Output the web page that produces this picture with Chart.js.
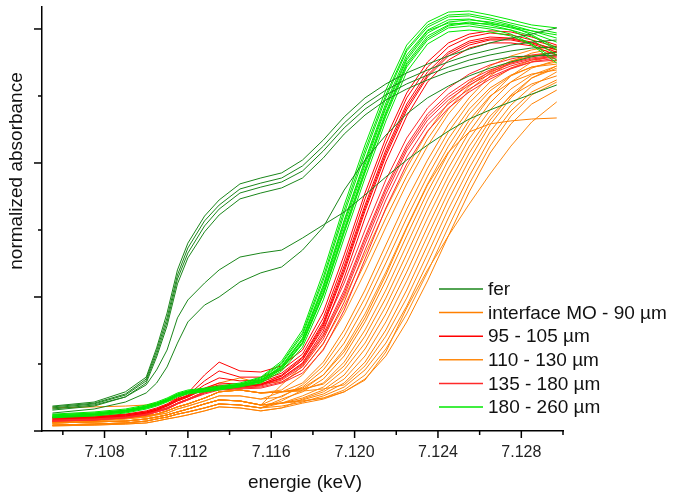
<!DOCTYPE html>
<html>
<head>
<meta charset="utf-8">
<script src="https://cdn.jsdelivr.net/npm/chart.js@4/dist/chart.umd.min.js"></script>
<style>
html,body{margin:0;padding:0;background:#fff;}
#wrap{width:674px;height:499px;}
</style>
</head>
<body>
<div id="wrap"><canvas id="xanesChart" width="674" height="499"></canvas></div>
<script>
// energy grid (keV), shared by every spectrum
const energies = [7.1055,7.1075,7.109,7.11,7.1105,7.111,7.1115,7.112,7.1128,7.1135,7.1145,7.1155,7.1165,7.1175,7.1185,7.1195,7.1205,7.1215,7.1225,7.1235,7.1245,7.1255,7.1265,7.1275,7.1285,7.1297];

const xTicks = [7.106,7.108,7.110,7.112,7.114,7.116,7.118,7.120,7.122,7.124,7.126,7.128,7.130];
const xLabels = [7.108,7.112,7.116,7.120,7.124,7.128];
const yTicks = [0,0.25,0.5,0.75,1,1.25,1.5];

const legendLabels = ['fer','interface MO - 90 µm','95 - 105 µm','110 - 130 µm','135 - 180 µm','180 - 260 µm'];
const legendColors = ['#1a861a','#ff8000','#ff0000','#ff8a10','#ff2a2a','#00e800'];

// normalized absorbance, one array per spectrum
const ferSpectra = [
[0.093,0.108,0.146,0.201,0.310,0.440,0.601,0.701,0.802,0.862,0.922,0.944,0.963,1.011,1.086,1.172,1.243,1.295,1.336,1.369,1.399,1.425,1.448,1.466,1.481,1.504],
[0.090,0.104,0.138,0.194,0.299,0.422,0.582,0.683,0.784,0.843,0.903,0.925,0.944,0.989,1.063,1.149,1.220,1.272,1.313,1.347,1.377,1.403,1.422,1.440,1.451,1.459],
[0.086,0.101,0.134,0.187,0.287,0.407,0.567,0.664,0.765,0.828,0.888,0.910,0.929,0.970,1.045,1.131,1.201,1.254,1.295,1.328,1.358,1.384,1.403,1.418,1.429,1.433],
[0.082,0.097,0.127,0.179,0.276,0.392,0.549,0.646,0.743,0.806,0.866,0.888,0.907,0.944,1.019,1.108,1.179,1.235,1.276,1.310,1.340,1.362,1.381,1.396,1.399,1.403],
[0.078,0.093,0.127,0.172,0.228,0.302,0.422,0.489,0.552,0.601,0.649,0.664,0.675,0.720,0.769,0.817,0.881,0.948,1.011,1.067,1.119,1.164,1.198,1.228,1.257,1.291],
[0.067,0.082,0.108,0.142,0.179,0.239,0.328,0.407,0.470,0.500,0.556,0.590,0.612,0.675,0.761,0.899,1.011,1.104,1.183,1.243,1.287,1.325,1.354,1.377,1.396,1.414]
];

const spectra180 = [
[0.063,0.071,0.082,0.097,0.108,0.123,0.142,0.153,0.160,0.168,0.179,0.201,0.261,0.377,0.593,0.843,1.067,1.272,1.440,1.526,1.563,1.567,1.552,1.534,1.515,1.504],
[0.060,0.067,0.078,0.093,0.104,0.119,0.138,0.149,0.157,0.164,0.175,0.198,0.254,0.366,0.575,0.825,1.049,1.254,1.425,1.515,1.552,1.556,1.541,1.522,1.504,1.485],
[0.060,0.067,0.078,0.093,0.104,0.119,0.138,0.149,0.157,0.164,0.175,0.194,0.250,0.358,0.563,0.810,1.034,1.243,1.418,1.507,1.545,1.549,1.534,1.515,1.493,1.466],
[0.056,0.063,0.075,0.090,0.101,0.116,0.134,0.146,0.153,0.160,0.172,0.190,0.243,0.347,0.545,0.787,1.011,1.224,1.403,1.496,1.534,1.537,1.522,1.504,1.485,1.451],
[0.056,0.063,0.075,0.090,0.101,0.116,0.134,0.146,0.153,0.160,0.172,0.190,0.239,0.340,0.530,0.769,0.993,1.205,1.384,1.485,1.526,1.534,1.526,1.511,1.478,1.429],
[0.052,0.060,0.071,0.086,0.097,0.112,0.131,0.142,0.149,0.157,0.168,0.187,0.235,0.332,0.519,0.754,0.978,1.190,1.373,1.474,1.515,1.526,1.515,1.496,1.459,1.403],
[0.052,0.060,0.071,0.086,0.097,0.112,0.131,0.142,0.149,0.157,0.168,0.183,0.231,0.325,0.507,0.739,0.963,1.175,1.358,1.459,1.504,1.511,1.500,1.481,1.444,1.384],
[0.049,0.056,0.067,0.082,0.093,0.108,0.127,0.138,0.146,0.153,0.164,0.179,0.224,0.313,0.489,0.720,0.944,1.157,1.340,1.444,1.489,1.496,1.489,1.474,1.440,1.373],
[0.056,0.063,0.075,0.090,0.101,0.116,0.134,0.146,0.153,0.160,0.172,0.187,0.239,0.343,0.537,0.780,1.004,1.213,1.392,1.493,1.522,1.519,1.507,1.496,1.474,1.422],
[0.052,0.060,0.071,0.086,0.097,0.112,0.131,0.142,0.149,0.157,0.168,0.183,0.231,0.328,0.511,0.746,0.970,1.183,1.366,1.466,1.511,1.522,1.519,1.507,1.493,1.478]
];

const spectra95 = [
[0.052,0.056,0.063,0.075,0.086,0.101,0.123,0.142,0.209,0.257,0.224,0.220,0.243,0.302,0.444,0.657,0.888,1.093,1.261,1.377,1.448,1.481,1.493,1.489,1.470,1.440],
[0.049,0.052,0.060,0.071,0.082,0.097,0.119,0.134,0.187,0.224,0.201,0.201,0.228,0.287,0.422,0.634,0.866,1.071,1.243,1.358,1.433,1.470,1.485,1.478,1.459,1.433],
[0.049,0.052,0.060,0.071,0.082,0.097,0.116,0.131,0.172,0.198,0.187,0.190,0.216,0.276,0.407,0.616,0.843,1.049,1.220,1.340,1.414,1.455,1.470,1.466,1.451,1.422],
[0.045,0.049,0.056,0.067,0.078,0.093,0.112,0.127,0.157,0.172,0.168,0.175,0.205,0.265,0.392,0.593,0.821,1.026,1.198,1.321,1.399,1.440,1.459,1.459,1.444,1.414],
[0.045,0.049,0.056,0.067,0.078,0.093,0.112,0.127,0.157,0.168,0.164,0.172,0.198,0.254,0.373,0.571,0.795,1.004,1.175,1.302,1.384,1.429,1.448,1.448,1.437,1.403],
[0.049,0.052,0.060,0.071,0.082,0.097,0.116,0.131,0.160,0.179,0.175,0.183,0.209,0.272,0.399,0.604,0.832,1.037,1.209,1.328,1.407,1.448,1.463,1.463,1.448,1.422]
];

const spectra135 = [
[0.041,0.045,0.052,0.063,0.075,0.086,0.104,0.119,0.146,0.164,0.168,0.175,0.205,0.265,0.384,0.552,0.750,0.937,1.093,1.205,1.280,1.332,1.366,1.388,1.403,1.414],
[0.041,0.045,0.052,0.063,0.075,0.086,0.104,0.119,0.146,0.160,0.164,0.172,0.198,0.250,0.362,0.526,0.724,0.910,1.067,1.183,1.257,1.310,1.347,1.373,1.392,1.403],
[0.037,0.041,0.049,0.060,0.071,0.082,0.101,0.116,0.142,0.157,0.160,0.168,0.190,0.239,0.343,0.504,0.698,0.884,1.045,1.160,1.235,1.291,1.332,1.362,1.384,1.396],
[0.037,0.041,0.049,0.060,0.071,0.082,0.101,0.116,0.142,0.157,0.160,0.164,0.183,0.228,0.325,0.481,0.675,0.862,1.022,1.142,1.220,1.276,1.321,1.354,1.377,1.392],
[0.041,0.045,0.052,0.063,0.075,0.086,0.104,0.119,0.146,0.160,0.164,0.172,0.194,0.246,0.354,0.515,0.713,0.899,1.056,1.172,1.246,1.299,1.340,1.369,1.388,1.399],
[0.037,0.041,0.049,0.060,0.071,0.082,0.101,0.116,0.138,0.153,0.157,0.160,0.179,0.216,0.302,0.451,0.642,0.832,0.996,1.119,1.205,1.265,1.313,1.351,1.377,1.384]
];

const interfaceSpectra = [
[0.086,0.090,0.093,0.097,0.104,0.112,0.119,0.131,0.157,0.179,0.198,0.179,0.183,0.228,0.328,0.466,0.627,0.795,0.951,1.090,1.201,1.287,1.343,1.381,1.399,1.414],
[0.037,0.041,0.049,0.056,0.063,0.075,0.090,0.101,0.123,0.146,0.153,0.142,0.146,0.179,0.257,0.377,0.526,0.694,0.862,1.011,1.142,1.243,1.325,1.377,1.410,1.429],
[0.030,0.034,0.037,0.045,0.052,0.060,0.071,0.082,0.101,0.116,0.112,0.097,0.131,0.164,0.228,0.328,0.466,0.627,0.795,0.951,1.090,1.201,1.280,1.328,1.358,1.369],
[0.022,0.026,0.030,0.037,0.045,0.052,0.063,0.071,0.086,0.101,0.097,0.086,0.119,0.146,0.194,0.280,0.407,0.560,0.728,0.892,1.037,1.160,1.250,1.302,1.332,1.347],
[0.037,0.041,0.049,0.056,0.063,0.075,0.090,0.101,0.123,0.146,0.153,0.142,0.146,0.157,0.175,0.243,0.354,0.496,0.660,0.828,0.981,1.116,1.224,1.302,1.354,1.384],
[0.022,0.026,0.030,0.037,0.045,0.052,0.063,0.071,0.086,0.101,0.097,0.086,0.104,0.123,0.153,0.209,0.306,0.437,0.593,0.761,0.922,1.063,1.175,1.250,1.295,1.325],
[0.030,0.034,0.037,0.045,0.052,0.060,0.071,0.082,0.101,0.116,0.112,0.097,0.104,0.116,0.138,0.179,0.257,0.377,0.526,0.694,0.862,1.011,1.142,1.243,1.317,1.362],
[0.022,0.026,0.030,0.037,0.045,0.052,0.063,0.071,0.086,0.101,0.097,0.086,0.093,0.108,0.131,0.164,0.228,0.328,0.466,0.627,0.795,0.951,1.090,1.194,1.265,1.310],
[0.019,0.022,0.026,0.030,0.037,0.045,0.052,0.060,0.075,0.090,0.086,0.075,0.086,0.104,0.119,0.146,0.194,0.280,0.407,0.560,0.728,0.892,1.037,1.146,1.220,1.272],
[0.037,0.041,0.049,0.056,0.063,0.075,0.090,0.101,0.123,0.146,0.153,0.142,0.146,0.160,0.209,0.295,0.422,0.582,0.757,0.918,1.041,1.116,1.146,1.157,1.164,1.168]
];

const spectra110 = [
[0.037,0.041,0.049,0.056,0.063,0.075,0.090,0.101,0.123,0.146,0.153,0.142,0.153,0.209,0.306,0.437,0.593,0.761,0.922,1.063,1.183,1.272,1.336,1.373,1.399,1.418],
[0.034,0.037,0.045,0.052,0.060,0.067,0.082,0.093,0.112,0.131,0.131,0.119,0.127,0.172,0.243,0.354,0.496,0.660,0.828,0.981,1.116,1.224,1.302,1.354,1.384,1.403],
[0.022,0.026,0.030,0.037,0.045,0.052,0.063,0.071,0.086,0.101,0.097,0.086,0.112,0.153,0.209,0.306,0.437,0.593,0.761,0.922,1.063,1.183,1.269,1.325,1.358,1.377],
[0.037,0.041,0.049,0.056,0.063,0.075,0.090,0.101,0.123,0.146,0.153,0.142,0.146,0.153,0.179,0.257,0.377,0.526,0.694,0.862,1.011,1.142,1.246,1.325,1.377,1.407],
[0.030,0.034,0.037,0.045,0.052,0.060,0.071,0.082,0.101,0.116,0.112,0.097,0.104,0.131,0.164,0.228,0.328,0.466,0.627,0.795,0.951,1.090,1.198,1.276,1.328,1.362],
[0.019,0.022,0.026,0.030,0.037,0.045,0.052,0.060,0.075,0.090,0.086,0.075,0.086,0.119,0.146,0.194,0.280,0.407,0.560,0.728,0.892,1.037,1.160,1.254,1.317,1.354],
[0.034,0.037,0.045,0.052,0.060,0.067,0.082,0.093,0.112,0.131,0.131,0.119,0.146,0.149,0.157,0.172,0.243,0.354,0.496,0.660,0.828,0.981,1.116,1.216,1.287,1.340],
[0.030,0.034,0.037,0.045,0.052,0.060,0.071,0.082,0.101,0.116,0.112,0.097,0.104,0.112,0.123,0.153,0.209,0.306,0.437,0.593,0.761,0.922,1.063,1.175,1.254,1.302],
[0.030,0.034,0.037,0.045,0.052,0.060,0.071,0.082,0.101,0.116,0.112,0.097,0.104,0.112,0.123,0.146,0.190,0.295,0.459,0.601,0.728,0.847,0.959,1.063,1.153,1.228],
[0.030,0.034,0.037,0.045,0.052,0.060,0.071,0.082,0.101,0.116,0.112,0.097,0.172,0.243,0.354,0.496,0.660,0.828,0.981,1.116,1.224,1.302,1.362,1.399,1.422,1.437]
];

const fontFamily = '"Liberation Sans", Arial, sans-serif';

function makeSets(group, color) {
  return group.map(ys => ({
    data: ys.map((y, k) => ({x: energies[k], y: y})),
    borderColor: color,
    borderWidth: 1,
    pointRadius: 0,
    fill: false,
    tension: 0
  }));
}

// first dataset is painted on top
const datasets = [].concat(
  makeSets(ferSpectra, legendColors[0]),
  makeSets(spectra180, legendColors[5]),
  makeSets(spectra95, legendColors[2]),
  makeSets(spectra135, legendColors[4]),
  makeSets(interfaceSpectra, legendColors[1]),
  makeSets(spectra110, legendColors[3])
);

const decorations = {
  id: 'decorations',
  afterDraw(chart) {
    const {ctx, chartArea: a, scales: {x, y}} = chart;
    ctx.save();
    ctx.strokeStyle = '#000';
    ctx.lineWidth = 1.5;
    xTicks.forEach(v => {
      const px = x.getPixelForValue(v);
      const len = xLabels.includes(v) ? 7 : 4;
      ctx.beginPath();
      ctx.moveTo(px, a.bottom);
      ctx.lineTo(px, a.bottom + len);
      ctx.stroke();
    });
    yTicks.forEach(v => {
      const py = y.getPixelForValue(v);
      const len = (v * 2) % 1 === 0 ? 8 : 4;
      ctx.beginPath();
      ctx.moveTo(a.left - len, py);
      ctx.lineTo(a.left, py);
      ctx.stroke();
    });

    // axis titles
    ctx.fillStyle = '#111';
    ctx.font = '19px ' + fontFamily;
    ctx.textAlign = 'center';
    ctx.textBaseline = 'middle';
    ctx.fillText('energie (keV)', 305, 483);
    ctx.save();
    ctx.translate(17, 171);
    ctx.rotate(-Math.PI / 2);
    ctx.fillText('normalized absorbance', 0, 0);
    ctx.restore();

    // legend
    ctx.textAlign = 'left';
    legendLabels.forEach((label, i) => {
      const ly = 289 + i * 23.6;
      ctx.strokeStyle = legendColors[i];
      ctx.lineWidth = 1.5;
      ctx.beginPath();
      ctx.moveTo(439, ly);
      ctx.lineTo(483, ly);
      ctx.stroke();
      ctx.fillStyle = '#111';
      ctx.fillText(label, 488, ly + 1);
    });
    ctx.restore();
  }
};

new Chart(document.getElementById('xanesChart'), {
  type: 'line',
  data: {datasets: datasets},
  options: {
    responsive: false,
    animation: false,
    layout: {padding: {top: 7, right: 111, left: 0, bottom: 0}},
    plugins: {legend: {display: false}, tooltip: {enabled: false}},
    scales: {
      x: {
        type: 'linear',
        min: 7.105,
        max: 7.130,
        afterBuildTicks: s => { s.ticks = xTicks.map(v => ({value: v})); },
        afterFit: s => { s.height = 68; },
        grid: {display: false, drawTicks: false},
        border: {display: true, color: '#000', width: 1.5},
        ticks: {
          autoSkip: false,
          maxRotation: 0,
          padding: 12,
          color: '#222',
          font: {family: fontFamily, size: 16},
          callback: v => xLabels.includes(v) ? v.toFixed(3) : ''
        }
      },
      y: {
        min: 0,
        max: 1.582,
        afterBuildTicks: s => { s.ticks = yTicks.map(v => ({value: v})); },
        afterFit: s => { s.width = 42; },
        grid: {display: false, drawTicks: false},
        border: {display: true, color: '#000', width: 1.5},
        ticks: {display: false}
      }
    }
  },
  plugins: [decorations]
});
</script>
</body>
</html>
